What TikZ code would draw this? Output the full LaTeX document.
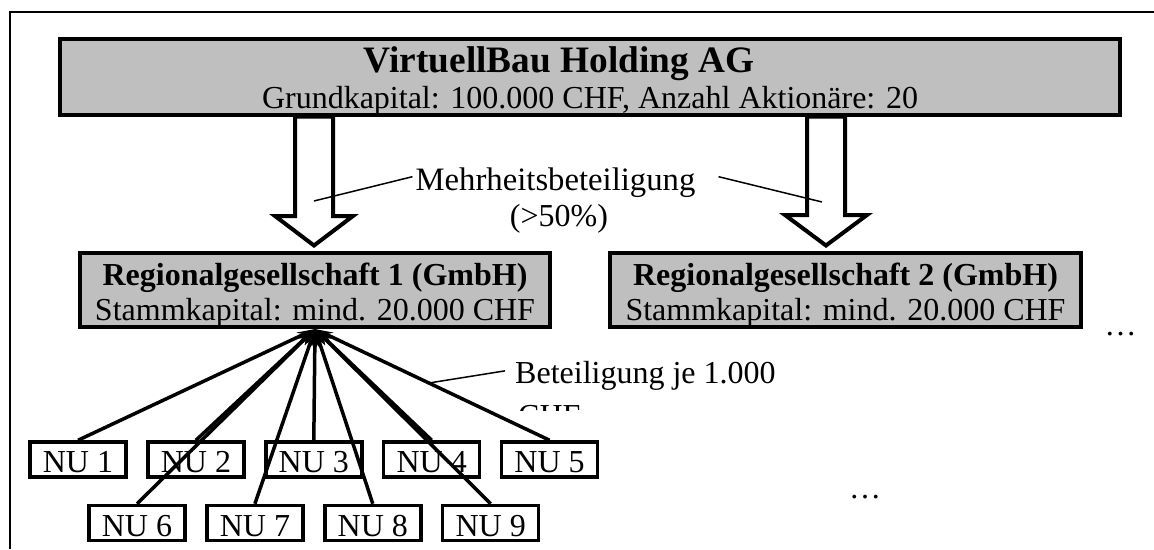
\documentclass[tikz,border=0pt]{standalone}
\usepackage{fontspec}
\setmainfont{Liberation Serif}
\usetikzlibrary{positioning, arrows.meta}
\tikzset{
x=1pt, y=-1pt, % one unit is one pixel of the page, y runs downwards
txt/.style={font=\fontsize{32}{36}\selectfont, inner sep=0pt}, % all the texts
company/.style={txt, draw, line width=4pt, fill=black!25, align=center, text depth=0pt}, % grey company boxes
nu/.style={txt, draw, line width=3.5pt, minimum width=96pt, minimum height=35pt, text height=27pt}, % NU boxes
share/.style={line width=3.5pt, -{Stealth[length=18pt, width=9pt]}}, % shares of the NUs
holds/.style={draw, line width=4pt, fill=white}, % hollow block arrows
leader/.style={line width=1.5pt}, % thin lines to the labels
}
\begin{document}
\begin{tikzpicture}[node distance=63.5pt and 117.9pt, on grid]
\useasboundingbox (0,0) rectangle (1154,549);
\draw[line width=2.5pt] (10,549) |- (1154,12);

% companies
\node[company, minimum width=1060pt, minimum height=75.5pt, text height=62.5pt] (holding) at (590,76.75)
    {\textbf{\fontsize{37.3}{36}\selectfont VirtuellBau Holding AG}\hspace*{62pt}\\
    Grundkapital: 100.000 CHF, Anzahl Aktionäre: 20};
\node[company, minimum width=470pt, minimum height=74pt, text height=60pt,
    font=\fontsize{32}{35}\selectfont] (rg1) at (315,290)
    {\textbf{Regionalgesellschaft 1 (GmbH)}\\Stammkapital: mind. 20.000 CHF};
\node[company, minimum width=471pt, minimum height=74pt, text height=60pt,
    font=\fontsize{32}{35}\selectfont] (rg2) at (845.5,290)
    {\textbf{Regionalgesellschaft 2 (GmbH)}\\Stammkapital: mind. 20.000 CHF};

% majority shares
\draw[holds] (314,0 |- holding.south) ++(-19,0) -- ++(0,99.5) -- ++(-20,0) -- ++(39,29.5)
    -- ++(39,-29.5) -- ++(-20,0) -- ++(0,-99.5) -- cycle;
\draw[holds] (826,0 |- holding.south) ++(-19,0) -- ++(0,98.5) -- ++(-22,0) -- ++(41,30.5)
    -- ++(41,-30.5) -- ++(-22,0) -- ++(0,-98.5) -- cycle;
\coordinate (in1) at (314,201);
\coordinate (in2) at (822,202);
\node[txt, anchor=base, font=\fontsize{32.7}{36}\selectfont] (maj) at (555.5,190) {Mehrheitsbeteiligung};
\node[txt, anchor=base] (pct) at (559,226) {(>50\%)};
\draw[leader] (in1) -- ([xshift=-3pt, yshift=5.5pt]maj.west);
\draw[leader] ([xshift=23pt, yshift=5.5pt]maj.east) -- (in2);

% NUs
\node[nu] (nu1) at (78,459.5) {NU 1};
\node[nu, right=of nu1] (nu2) {NU 2};
\node[nu, right=of nu2] (nu3) {NU 3};
\node[nu, right=of nu3] (nu4) {NU 4};
\node[nu, right=of nu4] (nu5) {NU 5};
\node[nu, below right=63.5pt and 59pt of nu1] (nu6) {NU 6};
\node[nu, right=of nu6] (nu7) {NU 7};
\node[nu, right=of nu7] (nu8) {NU 8};
\node[nu, right=of nu8] (nu9) {NU 9};
\foreach \n in {1,...,9}
    \draw[share] (nu\n.north) -- (rg1.south);

\coordinate (in3) at (429,383);
\node[txt, anchor=base west] (bet) at (515,383) {Beteiligung je 1.000};
\begin{scope}
    \clip (500,395) rectangle (600,410);
    \node[txt, anchor=base west] (chf) at (518,426) {CHF};
\end{scope}
\draw[leader] (in3) -- ([xshift=-10pt, yshift=4.5pt]bet.west);

\node[txt, anchor=base] (more1) at (1120.5,335) {…};
\node[txt, anchor=base] (more2) at (865,498) {…};
\end{tikzpicture}
\end{document}
